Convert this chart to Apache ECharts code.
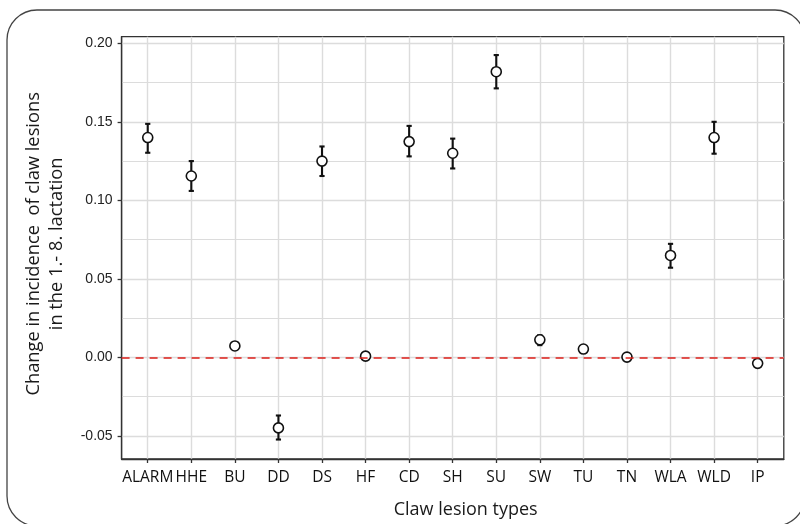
<!DOCTYPE html>
<html>
<head>
<meta charset="utf-8">
<script src="https://cdn.jsdelivr.net/npm/echarts@6/dist/echarts.min.js"></script>
<style>
  html, body { margin: 0; padding: 0; background: #fff; }
  #chart { width: 800px; height: 524px; }
</style>
</head>
<body>
<div id="chart"></div>
<script>
// Claw lesion types on the x axis
const lesionTypes = ['ALARM', 'HHE', 'BU', 'DD', 'DS', 'HF', 'CD', 'SH', 'SU', 'SW', 'TU', 'TN', 'WLA', 'WLD', 'IP'];
// Estimated change in incidence (1st - 8th lactation)
const estimates = [0.140, 0.1155, 0.0073, -0.0449, 0.125, 0.0008, 0.1374, 0.130, 0.1819, 0.0112, 0.0053, 0.0002, 0.0649, 0.140, -0.0038];
// Lower and upper ends of the error bars
const lowerBounds = [0.1303, 0.106, 0.0058, -0.0523, 0.1155, 0.0002, 0.128, 0.1203, 0.1713, 0.0078, 0.0043, -0.0004, 0.0571, 0.1297, -0.0044];
const upperBounds = [0.1487, 0.125, 0.0088, -0.0370, 0.1343, 0.0014, 0.1474, 0.1393, 0.1925, 0.0141, 0.0063, 0.0008, 0.0723, 0.1500, -0.0032];
// Y tick labels
const yTicks = [-0.05, 0.00, 0.05, 0.10, 0.15, 0.20];

const xPositions = lesionTypes.map((_, i) => i);
const pointData = estimates.map((v, i) => [i, v]);
const barData = estimates.map((_, i) => [i, lowerBounds[i], upperBounds[i]]);

const chart = echarts.init(document.getElementById('chart'), null, { renderer: 'canvas' });

const gridColor = '#dcdcdc';
const axisColor = '#333333';

chart.setOption({
  animation: false,
  backgroundColor: '#ffffff',
  grid: {
    left: 121.6, right: 16.2, top: 36.7, bottom: 64,
    show: true, borderColor: axisColor, borderWidth: 1.3, backgroundColor: 'transparent'
  },
  graphic: [{
    type: 'rect',
    silent: true,
    z: -10,
    shape: { x: 7, y: 10, width: 798, height: 516, r: 30 },
    style: { fill: 'none', stroke: '#444', lineWidth: 1.3 }
  }],
  xAxis: {
    type: 'value',
    min: -0.6,
    max: 14.6,
    name: 'Claw lesion types',
    nameLocation: 'middle',
    nameGap: 42,
    nameTextStyle: { fontFamily: 'Open Sans', fontSize: 18, color: '#1a1a1a', padding: [0, 0, 0, 26] },
    axisLine: { show: true, onZero: false, lineStyle: { color: axisColor, width: 1.3 } },
    axisTick: { show: true, length: 4, customValues: xPositions, lineStyle: { color: axisColor, width: 1.3 } },
    axisLabel: {
      customValues: xPositions,
      showMinLabel: true,
      showMaxLabel: true,
      hideOverlap: false,
      interval: 0,
      margin: 11,
      fontFamily: 'Open Sans', fontSize: 15.5, color: '#111',
      formatter: v => lesionTypes[Math.round(v)]
    },
    splitLine: { show: true, lineStyle: { color: gridColor, width: 1.4 } }
  },
  yAxis: {
    type: 'value',
    min: -0.0647,
    max: 0.2042,
    splitNumber: 5,
    name: 'Change in incidence  of claw lesions\nin the 1.- 8. lactation',
    nameLocation: 'middle',
    nameGap: 53,
    nameTextStyle: { fontFamily: 'Open Sans', fontSize: 18.3, color: '#1a1a1a', lineHeight: 23, padding: [0, 0, 0, 8] },
    axisLine: { show: true, onZero: false, lineStyle: { color: axisColor, width: 1.3 } },
    axisTick: { show: true, length: 4, customValues: yTicks, lineStyle: { color: axisColor, width: 1.3 } },
    axisLabel: {
      customValues: yTicks,
      margin: 9,
      fontFamily: 'Liberation Sans', fontSize: 14, color: '#222',
      formatter: v => v.toFixed(2)
    },
    splitLine: { show: true, lineStyle: { color: gridColor, width: 1.4 } },
    minorTick: { show: false, splitNumber: 2 },
    minorSplitLine: { show: true, lineStyle: { color: gridColor, width: 1.2 } }
  },
  series: [
    {
      type: 'custom',
      name: 'error',
      z: 3,
      data: barData,
      renderItem: (params, api) => {
        const x = api.value(0);
        const lo = api.coord([x, api.value(1)]);
        const hi = api.coord([x, api.value(2)]);
        const cap = 2.6;
        const style = { stroke: '#111', lineWidth: 2.1, fill: 'none' };
        return {
          type: 'group',
          children: [
            { type: 'line', shape: { x1: lo[0], y1: lo[1], x2: hi[0], y2: hi[1] }, style },
            { type: 'line', shape: { x1: hi[0] - cap, y1: hi[1], x2: hi[0] + cap, y2: hi[1] }, style },
            { type: 'line', shape: { x1: lo[0] - cap, y1: lo[1], x2: lo[0] + cap, y2: lo[1] }, style }
          ]
        };
      }
    },
    {
      type: 'scatter',
      name: 'estimate',
      z: 4,
      symbol: 'circle',
      symbolSize: 10,
      data: pointData,
      itemStyle: { color: '#ffffff', borderColor: '#111', borderWidth: 1.6, opacity: 1 },
      markLine: {
        silent: true,
        symbol: 'none',
        label: { show: false },
        lineStyle: { color: '#dd1f1a', type: [8, 6], width: 1.7 },
        data: [{ yAxis: 0 }]
      }
    }
  ]
});
</script>
</body>
</html>
